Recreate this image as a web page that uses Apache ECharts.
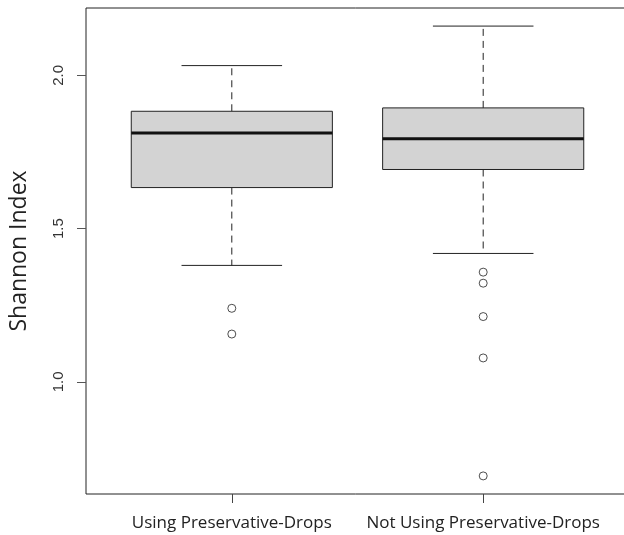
<!DOCTYPE html>
<html>
<head>
<meta charset="utf-8">
<script src="https://cdn.jsdelivr.net/npm/echarts@6/dist/echarts.min.js"></script>
<style>
  html, body { margin: 0; padding: 0; background: #fff; }
  #chart { width: 624px; height: 535px; }
</style>
</head>
<body>
<div id="chart"></div>
<script>
// groups on the x axis
const categories = ["Using Preservative-Drops", "Not Using Preservative-Drops"];
// five-number summary per group: lower whisker, Q1, median, Q3, upper whisker
const boxStats = [
  [1.380, 1.634, 1.812, 1.883, 2.032],
  [1.419, 1.693, 1.793, 1.894, 2.161],
];
// points beyond the whiskers
const outliers = [
  [1.240, 1.156],
  [1.358, 1.322, 1.213, 1.078, 0.693],
];
const yTicks = [1.0, 1.5, 2.0];
const xTicks = [1, 2];

const boxData = boxStats.map((s, i) => [i + 1].concat(s));
const outlierData = [];
outliers.forEach((arr, i) => arr.forEach((v) => outlierData.push([i + 1, v])));

function renderBox(params, api) {
  const x = api.value(0);
  const lo = api.value(1), q1 = api.value(2), med = api.value(3),
    q3 = api.value(4), hi = api.value(5);
  const c = (dx, v) => api.coord([x + dx, v]);
  const seg = (a, b, style) => ({
    type: "line",
    shape: { x1: a[0], y1: a[1], x2: b[0], y2: b[1] },
    style: style,
  });
  const dashed = { stroke: "#222", lineWidth: 1, lineDash: [7, 5] };
  const solid = { stroke: "#222", lineWidth: 1 };
  const tl = c(-0.4, q3), br = c(0.4, q1);
  return {
    type: "group",
    children: [
      seg(c(0, q3), c(0, hi), dashed),
      seg(c(0, q1), c(0, lo), dashed),
      seg(c(-0.2, hi), c(0.2, hi), solid),
      seg(c(-0.2, lo), c(0.2, lo), solid),
      {
        type: "rect",
        shape: { x: tl[0], y: tl[1], width: br[0] - tl[0], height: br[1] - tl[1] },
        style: { fill: "#d3d3d3", stroke: "#222", lineWidth: 1 },
      },
      seg(c(-0.4, med), c(0.4, med), { stroke: "#111", lineWidth: 3 }),
    ],
  };
}

const option = {
  animation: false,
  grid: {
    left: 86,
    right: -5,
    top: 8,
    bottom: 41,
    outerBoundsMode: "none",
    show: true,
    borderColor: "#222",
    borderWidth: 1,
  },
  xAxis: {
    type: "value",
    min: 0.42,
    max: 2.58,
    splitLine: { show: false },
    axisLine: { show: false },
    axisTick: { show: true, customValues: xTicks, length: 9, lineStyle: { color: "#444" } },
    axisLabel: {
      customValues: xTicks,
      formatter: (v) => categories[Math.round(v) - 1],
      margin: 21,
      color: "#222",
      fontFamily: "Open Sans",
      fontSize: 17,
    },
  },
  yAxis: {
    type: "value",
    min: 0.634,
    max: 2.22,
    name: "Shannon Index",
    nameLocation: "middle",
    nameRotate: 90,
    nameGap: 55,
    nameTextStyle: { fontFamily: "Open Sans", fontSize: 23, color: "#222" },
    splitLine: { show: false },
    axisLine: { show: false },
    axisTick: { show: true, customValues: yTicks, length: 9, lineStyle: { color: "#555" } },
    axisLabel: {
      customValues: yTicks,
      rotate: 90,
      margin: 20,
      formatter: (v) => v.toFixed(1),
      color: "#333",
      fontFamily: "Liberation Sans",
      fontSize: 15,
    },
  },
  series: [
    {
      type: "custom",
      renderItem: renderBox,
      encode: { x: 0, y: [1, 2, 3, 4, 5] },
      data: boxData,
      z: 2,
    },
    {
      type: "scatter",
      data: outlierData,
      symbol: "circle",
      symbolSize: 8,
      itemStyle: { color: "#fff", borderColor: "#222", borderWidth: 1 },
      z: 3,
    },
  ],
};

const myChart = echarts.init(document.getElementById("chart"));
myChart.setOption(option);
</script>
</body>
</html>
